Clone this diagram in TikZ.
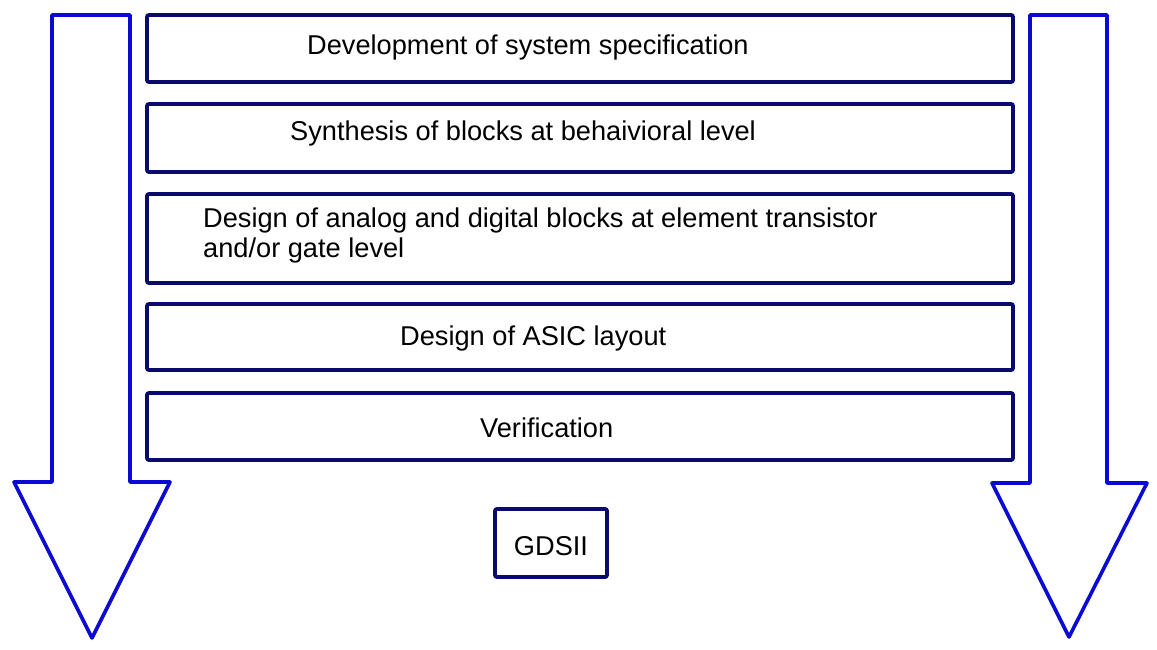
\documentclass[tikz,border=0pt]{standalone}
\usepackage{fontspec}
\setmainfont{Liberation Sans}
\usepackage{tikz}
\usetikzlibrary{positioning}
\definecolor{flowNavy}{RGB}{10,10,110}
\definecolor{flowBlue}{RGB}{10,10,210}

\begin{document}
\begin{tikzpicture}[x=1pt, y=-1pt,
    stagebox/.style={draw=flowNavy, line width=3.8pt, rounded corners=2pt, minimum width=866pt, inner sep=0pt},
    stagetext/.style={anchor=base west, inner sep=0pt, font=\fontsize{27.2}{29.5}\selectfont},
    flowarrow/.style={draw=flowBlue, line width=3.6pt, line join=round}]
  \useasboundingbox (0,0) rectangle (1157,650);

  % Stages of the flow
  \node[stagebox, minimum height=67pt] (spec) at (580,48.5) {};
  \node[stagebox, minimum height=68pt] (synth) at (580,138) {};
  \node[stagebox, minimum height=89pt] (design) at (580,238.5) {};
  \node[stagebox, minimum height=66pt] (layout) at (580,337) {};
  \node[stagebox, minimum height=67pt] (verif) at (580,426.5) {};

  \node[stagetext] (specText) at (307,55) {Development of system specification};
  \node[stagetext] (synthText) at (290,141) {Synthesis of blocks at behaivioral level};
  \node[stagetext, align=left] (designText) at (203,257) {Design of analog and digital blocks at element transistor\\and/or gate level};
  \node[stagetext] (layoutText) at (400,345) {Design of ASIC layout};
  \node[stagetext] (verifText) at (480,437) {Verification};

  % Output
  \node[draw=flowNavy, line width=3.8pt, rounded corners=2pt, minimum width=112pt, minimum height=68pt,
    inner sep=0pt, text height=25pt, text depth=0pt, font=\fontsize{27.2}{29.5}\selectfont] (gds) at (551,543) {GDSII};

  % Side arrows
  \draw[flowarrow] (52,15) -- (130,15) -- (130,482) -- (170,482) -- (92,638) -- (14,482) -- (52,482) -- cycle;
  \draw[flowarrow] (1030,15) -- (1107,15) -- (1107,483) -- (1147,483) -- (1069,637) -- (992,483) -- (1030,483) -- cycle;
\end{tikzpicture}
\end{document}
